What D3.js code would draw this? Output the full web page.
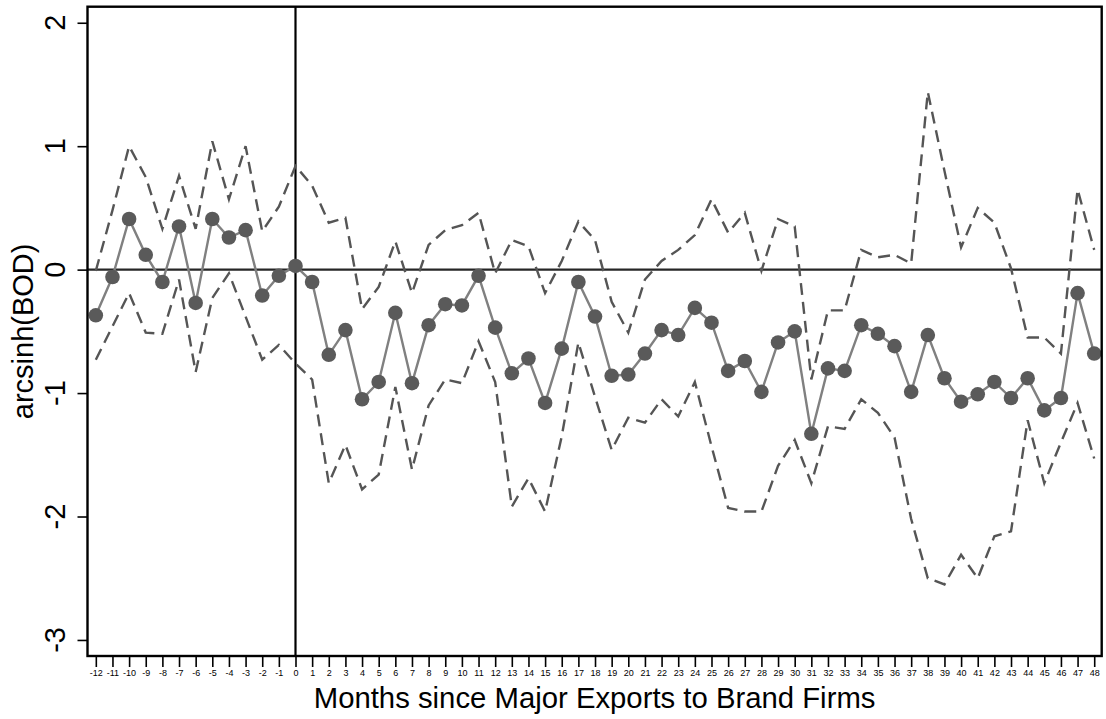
<!DOCTYPE html>
<html>
<head>
<meta charset="utf-8">
<script src="https://cdn.jsdelivr.net/npm/d3@7"></script>
<style>
  html, body { margin: 0; padding: 0; background: #fff; }
  svg { display: block; font-family: "Liberation Sans", Arial, Helvetica, sans-serif; }
</style>
</head>
<body>
<svg id="chart" width="1106" height="719"></svg>
<script>
const months = d3.range(-12, 49);
const estimate = [
  -0.37, -0.06, 0.41, 0.12, -0.10, 0.35, -0.27, 0.41, 0.26, 0.32, -0.21, -0.05,
  0.03, -0.10, -0.69, -0.49, -1.05, -0.91, -0.35, -0.92, -0.45, -0.28, -0.29, -0.05,
  -0.47, -0.84, -0.72, -1.08, -0.64, -0.10, -0.38, -0.86, -0.85, -0.68, -0.49, -0.53,
  -0.31, -0.43, -0.82, -0.74, -0.99, -0.59, -0.50, -1.33, -0.80, -0.82, -0.45, -0.52,
  -0.62, -0.99, -0.53, -0.88, -1.07, -1.01, -0.91, -1.04, -0.88, -1.14, -1.04, -0.19,
  -0.68
];
const upperCI = [
  -0.01, 0.48, 1.00, 0.75, 0.33, 0.76, 0.33, 1.04, 0.57, 1.00, 0.31, 0.51,
  0.84, 0.68, 0.38, 0.42, -0.32, -0.14, 0.23, -0.19, 0.20, 0.32, 0.36, 0.46,
  -0.03, 0.24, 0.19, -0.19, 0.07, 0.39, 0.24, -0.26, -0.51, -0.08, 0.07, 0.16,
  0.28, 0.57, 0.30, 0.46, -0.01, 0.41, 0.35, -0.89, -0.33, -0.33, 0.16, 0.10,
  0.12, 0.05, 1.44, 0.80, 0.18, 0.50, 0.38, 0.01, -0.55, -0.55, -0.68, 0.65,
  0.16
];
const lowerCI = [
  -0.73, -0.46, -0.19, -0.51, -0.52, -0.08, -0.83, -0.23, -0.03, -0.38, -0.73, -0.61,
  -0.76, -0.89, -1.73, -1.42, -1.78, -1.66, -0.95, -1.62, -1.10, -0.89, -0.92, -0.58,
  -0.91, -1.92, -1.69, -1.96, -1.35, -0.59, -1.03, -1.46, -1.20, -1.24, -1.05, -1.19,
  -0.91, -1.43, -1.93, -1.96, -1.96, -1.59, -1.38, -1.73, -1.27, -1.29, -1.05, -1.16,
  -1.36, -2.02, -2.50, -2.55, -2.31, -2.50, -2.16, -2.12, -1.22, -1.73, -1.40, -1.08,
  -1.53
];
const yTicks = [-3, -2, -1, 0, 1, 2];
const xTitle = "Months since Major Exports to Brand Firms";
const yTitle = "arcsinh(BOD)";

const svg = d3.select("#chart");
const L = 87.5, R = 1101.7, T = 6.7, B = 656;
const x = d3.scaleLinear().domain([-12.5, 48.45]).range([L, R]);
const y = d3.scaleLinear().domain([-3.13, 2.13]).range([B, T]);

const data = months.map((m, i) => ({ m, est: estimate[i], up: upperCI[i], lo: lowerCI[i] }));

// reference lines
svg.append("line").attr("x1", L).attr("x2", R).attr("y1", y(0)).attr("y2", y(0))
  .attr("stroke", "#262626").attr("stroke-width", 2.2);
svg.append("line").attr("x1", x(0)).attr("x2", x(0)).attr("y1", T).attr("y2", B)
  .attr("stroke", "#000").attr("stroke-width", 2.2);

// CI dashed lines
const lineUp = d3.line().x(d => x(d.m)).y(d => y(d.up));
const lineLo = d3.line().x(d => x(d.m)).y(d => y(d.lo));
[lineUp, lineLo].forEach(gen => {
  svg.append("path").datum(data).attr("d", gen)
    .attr("fill", "none").attr("stroke", "#555555").attr("stroke-width", 2.4)
    .attr("stroke-dasharray", "12,7");
});

// estimate line + markers
const lineEst = d3.line().x(d => x(d.m)).y(d => y(d.est));
svg.append("path").datum(data).attr("d", lineEst)
  .attr("fill", "none").attr("stroke", "#808080").attr("stroke-width", 2.4);
svg.append("g").selectAll("circle").data(data).join("circle")
  .attr("cx", d => x(d.m)).attr("cy", d => y(d.est)).attr("r", 7.3)
  .attr("fill", "#5a5a5a");

// frame
svg.append("rect").attr("x", L).attr("y", T).attr("width", R - L).attr("height", B - T)
  .attr("fill", "none").attr("stroke", "#000").attr("stroke-width", 2.4);

// x axis
const xAxis = d3.axisBottom(x).tickValues(months).tickSize(11).tickPadding(3)
  .tickFormat(d => String(d));
const gx = svg.append("g").attr("transform", `translate(0,${B})`).call(xAxis);
gx.select(".domain").remove();
gx.selectAll(".tick line").attr("stroke", "#000").attr("stroke-width", 1.6);
gx.selectAll(".tick text").attr("font-size", 9).attr("fill", "#000")
  .attr("font-family", "Liberation Sans, Arial, sans-serif");

// y axis
const yAxis = d3.axisLeft(y).tickValues(yTicks).tickSize(10).tickFormat("");
const gy = svg.append("g").attr("transform", `translate(${L},0)`).call(yAxis);
gy.select(".domain").remove();
gy.selectAll(".tick line").attr("stroke", "#000").attr("stroke-width", 1.6);
svg.append("g").selectAll("text").data(yTicks).join("text")
  .attr("transform", d => `translate(65,${y(d)}) rotate(-90)`)
  .attr("text-anchor", "middle").attr("font-size", 29).attr("fill", "#000")
  .text(d => String(d));

// titles
svg.append("text").attr("x", (L + R) / 2).attr("y", 708)
  .attr("text-anchor", "middle").attr("font-size", 29.3).attr("fill", "#000").text(xTitle);
svg.append("text").attr("transform", `translate(33,${(T + B) / 2}) rotate(-90)`)
  .attr("text-anchor", "middle").attr("font-size", 29).attr("fill", "#000").text(yTitle);
</script>
</body>
</html>
